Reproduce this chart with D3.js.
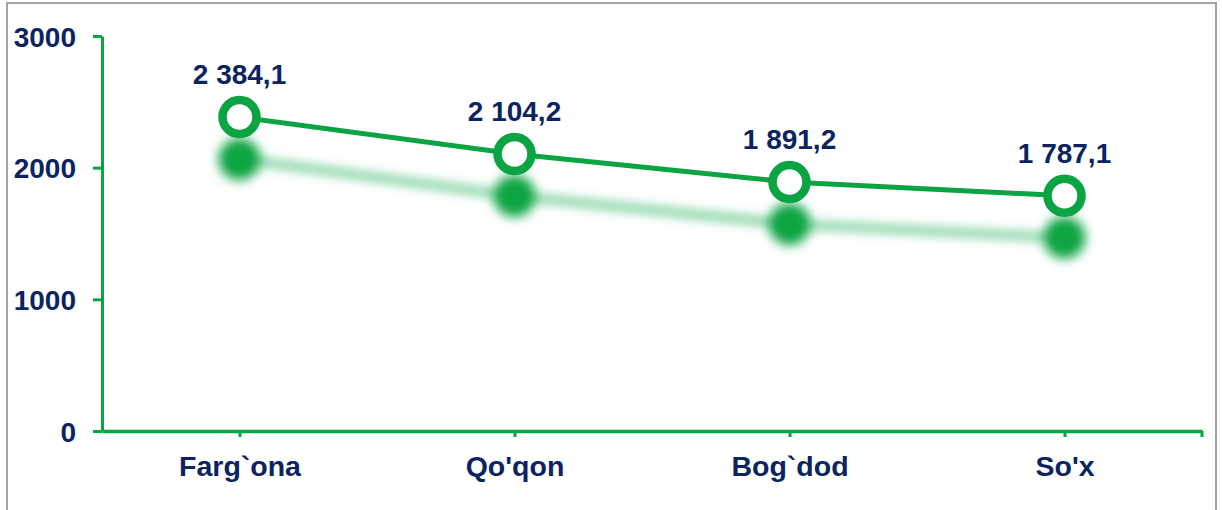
<!DOCTYPE html>
<html>
<head>
<meta charset="utf-8">
<script src="https://cdn.jsdelivr.net/npm/d3@7"></script>
<style>
	html, body { margin: 0; padding: 0; background: #fff; }
	svg { display: block; font-family: "Liberation Sans", Arial, sans-serif; }
</style>
</head>
<body>
<svg id="chart" width="1222" height="510"></svg>
<script>

const categories = ["Farg`ona", "Qo'qon", "Bog`dod", "So'x"];
const values = [2384.1, 2104.2, 1891.2, 1787.1];
const y_ticks = [0, 1000, 2000, 3000];

const GREEN = "#0aa443";
const NAVY = "#0b2461";

function drawChart() {
	const svg = d3.select("#chart");
	const width = +svg.attr("width");
	const height = +svg.attr("height");

	const left = 102, right = 1202, top = 36, bottom = 431;

	// outer frame
	svg.append("rect")
		.attr("x", 7).attr("y", 3)
		.attr("width", 1209).attr("height", height + 10)
		.attr("fill", "none")
		.attr("stroke", "#a3a3a3")
		.attr("stroke-width", 2);

	const x = d3.scalePoint()
		.domain(categories)
		.range([left, right])
		.padding(0.5);

	const y = d3.scaleLinear()
		.domain([0, 3000])
		.range([bottom, top]);

	const fmt = d3.formatLocale({decimal: ",", thousands: " ", grouping: [3], currency: ["", ""]}).format(",.1f");

	const defs = svg.append("defs");
	defs.append("filter")
		.attr("id", "soft")
		.attr("x", "-20%").attr("y", "-50%")
		.attr("width", "140%").attr("height", "200%")
		.append("feGaussianBlur")
		.attr("stdDeviation", 5.5);

	// y axis
	const y_axis = d3.axisLeft(y)
		.tickValues(y_ticks)
		.tickFormat(d3.format("d"))
		.tickSize(9)
		.tickSizeOuter(0)
		.tickPadding(17);

	const gy = svg.append("g")
		.attr("transform", "translate(" + left + ",0)")
		.call(y_axis);
	gy.select(".domain").attr("stroke", GREEN).attr("stroke-width", 3);
	gy.selectAll(".tick line").attr("stroke", GREEN).attr("stroke-width", 3);
	gy.selectAll(".tick text")
		.attr("fill", NAVY)
		.attr("font-size", "28px")
		.attr("font-weight", "bold")
		.attr("dy", "0.36em");

	// x axis
	const x_axis = d3.axisBottom(x)
		.tickSize(6)
		.tickSizeOuter(0);

	const gx = svg.append("g")
		.attr("transform", "translate(0," + bottom + ")")
		.call(x_axis);
	gx.select(".domain").attr("stroke", GREEN).attr("stroke-width", 3.5);
	gx.selectAll(".tick line").attr("stroke", GREEN).attr("stroke-width", 3);
	gx.selectAll(".tick text")
		.attr("fill", NAVY)
		.attr("font-size", "28.5px")
		.attr("font-weight", "bold")
		.attr("y", 45)
		.attr("dy", 0);
	gx.append("line")
		.attr("x1", right).attr("x2", right)
		.attr("y1", 0).attr("y2", 6)
		.attr("stroke", GREEN)
		.attr("stroke-width", 3);

	const line = d3.line()
		.x((d, i) => x(categories[i]))
		.y(d => y(d));

	// blurred shadow copy below the series
	const shadow = svg.append("g")
		.attr("transform", "translate(0,42)")
		.attr("filter", "url(#soft)");
	shadow.append("path")
		.datum(values)
		.attr("d", line)
		.attr("fill", "none")
		.attr("stroke", GREEN)
		.attr("stroke-opacity", 0.7)
		.attr("stroke-width", 6);
	shadow.selectAll("circle")
		.data(values)
		.enter().append("circle")
		.attr("cx", (d, i) => x(categories[i]))
		.attr("cy", d => y(d))
		.attr("r", 21)
		.attr("fill", GREEN);

	// series
	svg.append("path")
		.datum(values)
		.attr("d", line)
		.attr("fill", "none")
		.attr("stroke", GREEN)
		.attr("stroke-width", 5);

	svg.selectAll(".marker")
		.data(values)
		.enter().append("circle")
		.classed("marker", true)
		.attr("cx", (d, i) => x(categories[i]))
		.attr("cy", d => y(d))
		.attr("r", 17)
		.attr("fill", "#fff")
		.attr("stroke", GREEN)
		.attr("stroke-width", 8.5);

	svg.selectAll(".value-label")
		.data(values)
		.enter().append("text")
		.classed("value-label", true)
		.attr("x", (d, i) => x(categories[i]))
		.attr("y", d => y(d) - 33)
		.attr("text-anchor", "middle")
		.attr("fill", NAVY)
		.attr("font-size", "28px")
		.attr("font-weight", "bold")
		.text(d => fmt(d));
}

document.addEventListener("DOMContentLoaded", drawChart);
</script>
</body>
</html>
